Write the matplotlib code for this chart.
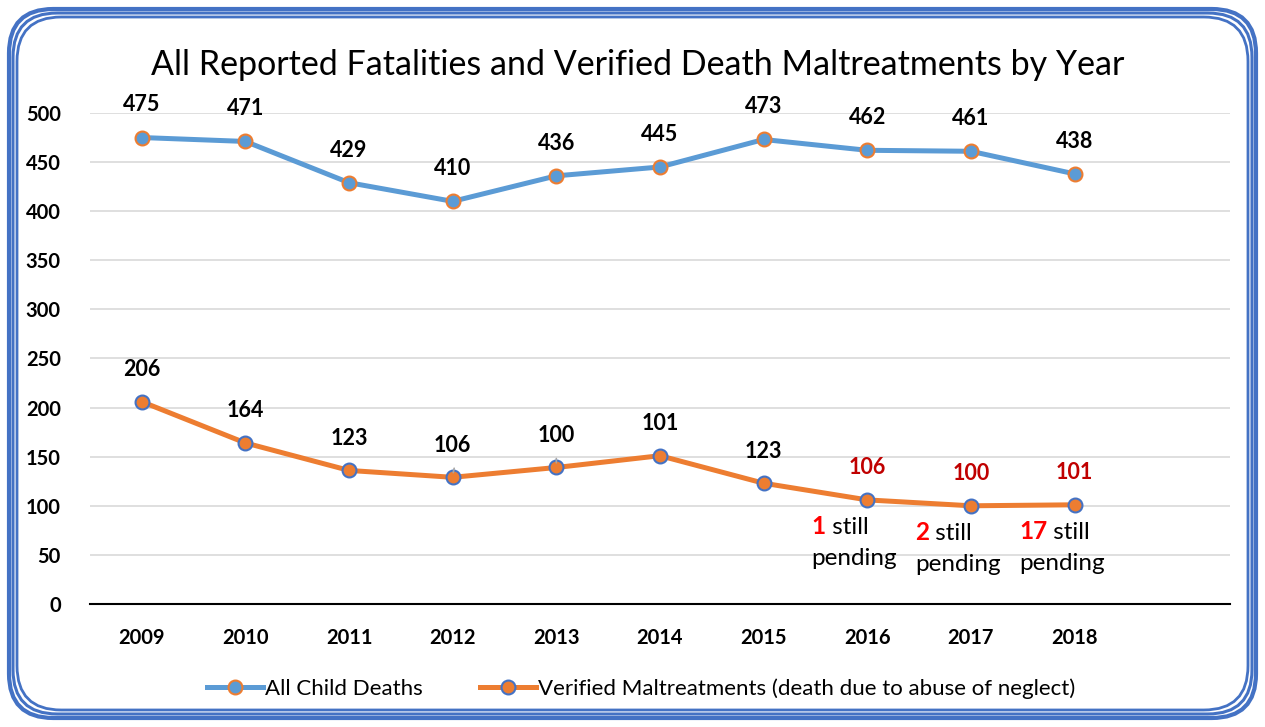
import matplotlib
matplotlib.use("Agg")
import matplotlib.pyplot as plt
from matplotlib.patches import FancyBboxPatch
from matplotlib.lines import Line2D

plt.rcParams['font.family'] = ['Lato', 'DejaVu Sans']

# data
years = ['2009', '2010', '2011', '2012', '2013', '2014', '2015', '2016', '2017', '2018']
all_deaths = [475, 471, 429, 410, 436, 445, 473, 462, 461, 438]
verified = [206, 164, 136, 129, 139, 151, 123, 106, 100, 101]
verified_labels = ['206', '164', '123', '106', '100', '101', '123', '106', '100', '101']
pending_counts = {7: '1', 8: '2', 9: '17'}   # index of year -> number still pending

BLUE = '#5B9BD5'
ORANGE = '#ED7D31'
FRAME = '#4472C4'

fig = plt.figure(figsize=(12.65, 7.27), dpi=100)
ax = fig.add_axes([0.0711, 0.1692, 0.9012, 0.6754])

x = list(range(len(years)))
ax.plot(x, all_deaths, color=BLUE, lw=3.6, marker='o', ms=10,
        mfc=BLUE, mec=ORANGE, mew=1.5, zorder=3, clip_on=False)
ax.plot(x, verified, color=ORANGE, lw=3.6, marker='o', ms=10,
        mfc=ORANGE, mec=FRAME, mew=1.5, zorder=3, clip_on=False)

# data labels
for i, v in enumerate(all_deaths):
    ax.annotate(str(v), (i, v), xytext=(0, 23.5), textcoords='offset points',
                ha='center', va='center', fontsize=15.5, fontweight='bold')

for i, (v, lab) in enumerate(zip(verified, verified_labels)):
    red = i in pending_counts
    ax.annotate(lab, (i, v), xytext=(0, 23), textcoords='offset points',
                ha='center', va='center', fontsize=15.5, fontweight='bold',
                color='#C00000' if red else 'black')

# small leader lines on 2012 and 2013
for i in (3, 4):
    ax.annotate('', xy=(i, verified[i] + 2), xytext=(i + (0.02 if i == 3 else 0), verified[i] + 12),
                arrowprops=dict(arrowstyle='-', color='#A6A6A6', lw=1.2))

# "N still pending" notes
for i, n in pending_counts.items():
    num = ax.annotate(n, (i, verified[i]), xytext=(-40, -19), textcoords='offset points',
                      ha='left', va='center', fontsize=17.5, fontweight='bold', color='#FF0000')
    ax.annotate(' still', xy=(1, 0), xycoords=num, ha='left', va='bottom',
                fontsize=17.5, color='black')
    ax.annotate('pending', (i, verified[i]), xytext=(-40, -42), textcoords='offset points',
                ha='left', va='center', fontsize=17.5, color='black')

ax.set_xlim(-0.5, 10.5)
ax.set_ylim(0, 500)
ax.set_yticks(range(0, 501, 50))
ax.set_xticks(x)
ax.set_xticklabels(years)
ax.tick_params(length=0, labelsize=14.5)
ax.tick_params(axis='y', pad=21)
ax.tick_params(axis='x', pad=17)
for lab in ax.get_xticklabels() + ax.get_yticklabels():
    lab.set_fontweight('bold')
ax.grid(axis='y', color='#D9D9D9', lw=1.2)
ax.set_axisbelow(True)
for s in ('top', 'right', 'left'):
    ax.spines[s].set_visible(False)
ax.spines['bottom'].set_color('black')
ax.spines['bottom'].set_linewidth(1.5)

fig.text(0.504, 0.911, 'All Reported Fatalities and Verified Death Maltreatments by Year',
         ha='center', va='center', fontsize=24.5)

handles = [
    Line2D([], [], color=BLUE, lw=3.6, marker='o', ms=10, mfc=BLUE, mec=ORANGE, mew=1.5),
    Line2D([], [], color=ORANGE, lw=3.6, marker='o', ms=10, mfc=ORANGE, mec=FRAME, mew=1.5),
]
fig.legend(handles, ['All Child Deaths', 'Verified Maltreatments (death due to abuse of neglect)'],
           loc='center', bbox_to_anchor=(0.507, 0.053), ncol=2, frameon=False,
           fontsize=16, handlelength=2.5, handletextpad=0.1, columnspacing=2.6)

# rounded triple frame
W, H = 1265, 727
for inset, lw in ((9, 3.0), (13, 2.2), (17, 2.0)):
    fig.patches.append(FancyBboxPatch(
        (inset / W, inset / H), 1 - 2 * inset / W, 1 - 2 * inset / H,
        boxstyle='round,pad=0,rounding_size=0.035', transform=fig.transFigure,
        fill=False, ec=FRAME, lw=lw, mutation_aspect=W / H))

fig.savefig('out.png', dpi=100)
